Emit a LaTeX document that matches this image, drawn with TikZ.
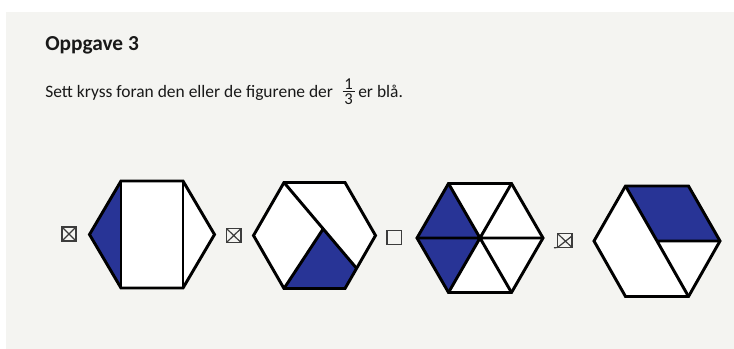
\documentclass[tikz,border=0pt]{standalone}
\usepackage{fontspec}
\usetikzlibrary{calc}
\setmainfont{Carlito}
\definecolor{paper}{RGB}{244,244,241}
\definecolor{ink}{RGB}{25,25,25}
\definecolor{fillblue}{RGB}{40,52,150}
\begin{document}
\begin{tikzpicture}[x=0.75pt,y=-0.75pt,
  hexline/.style={draw=black,line width=2.2pt,line join=miter},
  blue part/.style={fill=fillblue},
  cbox/.style={draw=ink!85,line width=0.9pt},
  txt/.style={inner sep=0pt,anchor=base west,text=ink},
  fracdigit/.style={inner sep=0pt,anchor=base,text=ink,font=\fontsize{12.5}{14}\selectfont}]
\useasboundingbox (0,0) rectangle (734,349);
\fill[white] (0,0) rectangle (734,349);
\fill[paper] (6,12) rectangle (734,349);

% texts
\node[txt,font=\fontsize{16}{19}\selectfont\bfseries] (title) at (45,50.7) {Oppgave 3};
\node[txt,font=\fontsize{13.1}{16}\selectfont] (task) at (45,97.5) {Sett kryss foran den eller de figurene der};
\node[fracdigit] (num) at (348.5,89.5) {1};
\node[fracdigit] (den) at (348.5,105) {3};
\draw[ink,line width=0.6pt] (342.5,91.5) -- (354.5,91.5);
\node[txt,font=\fontsize{13.1}{16}\selectfont] (tail) at (358,97.5) {er blå.};

% ---------- hexagon 1 ----------
\coordinate (aL) at (89.5,234.5);
\coordinate (aTL) at (121,181);
\coordinate (aTR) at (183,181);
\coordinate (aR) at (214.5,234.5);
\coordinate (aBR) at (183,288);
\coordinate (aBL) at (121,288);
\fill[white] (aL)--(aTL)--(aTR)--(aR)--(aBR)--(aBL)--cycle;
\fill[blue part] (aL)--(aTL)--(aBL)--cycle;
\draw[hexline] (aTL)--(aBL) (aTR)--(aBR);
\draw[hexline] (aL)--(aTL)--(aTR)--(aR)--(aBR)--(aBL)--cycle;

% ---------- hexagon 2 ----------
\coordinate (bL) at (253.5,235.5);
\coordinate (bTL) at (284,182.5);
\coordinate (bTR) at (345,182.5);
\coordinate (bR) at (375.5,235.5);
\coordinate (bBR) at (345,288.5);
\coordinate (bBL) at (284,288.5);
\coordinate (bQ) at ($(bR)!0.62!(bBR)$);
\coordinate (bP) at ($(bTL)!0.54!(bQ)$);
\fill[white] (bL)--(bTL)--(bTR)--(bR)--(bBR)--(bBL)--cycle;
\fill[blue part] (bP)--(bQ)--(bBR)--(bBL)--cycle;
\draw[hexline] (bTL)--(bQ) (bP)--(bBL);
\draw[hexline] (bL)--(bTL)--(bTR)--(bR)--(bBR)--(bBL)--cycle;

% ---------- hexagon 3 ----------
\coordinate (cC) at (480,238);
\coordinate (cL) at (417,238);
\coordinate (cTL) at (448.5,183.5);
\coordinate (cTR) at (511.5,183.5);
\coordinate (cR) at (543,238);
\coordinate (cBR) at (511.5,292.5);
\coordinate (cBL) at (448.5,292.5);
\fill[white] (cL)--(cTL)--(cTR)--(cR)--(cBR)--(cBL)--cycle;
\fill[blue part] (cL)--(cTL)--(cC)--(cBL)--cycle;
\draw[hexline] (cL)--(cR) (cTL)--(cBR) (cTR)--(cBL);
\draw[hexline] (cL)--(cTL)--(cTR)--(cR)--(cBR)--(cBL)--cycle;

% ---------- hexagon 4 ----------
\coordinate (dC) at (657,241);
\coordinate (dL) at (594,241);
\coordinate (dTL) at (625.5,186);
\coordinate (dTR) at (688.5,186);
\coordinate (dR) at (720,241);
\coordinate (dBR) at (688.5,296.5);
\coordinate (dBL) at (625.5,296.5);
\fill[white] (dL)--(dTL)--(dTR)--(dR)--(dBR)--(dBL)--cycle;
\fill[blue part] (dTL)--(dTR)--(dR)--(dC)--cycle;
\draw[hexline] (dTL)--(dC)--(dR) (dC)--(dBR);
\draw[hexline] (dL)--(dTL)--(dTR)--(dR)--(dBR)--(dBL)--cycle;

% ---------- check boxes ----------
\draw[cbox] (62,227) rectangle (76,241);
\draw[cbox] (62,227) -- (76,241) (76,227) -- (62,241);
\draw[cbox] (226.5,228.5) rectangle (241,242.5);
\draw[cbox] (226.5,228.5) -- (241,242.5) (241,228.5) -- (226.5,242.5);
\draw[cbox] (387,230.5) rectangle (401.5,244.5);
\draw[cbox] (557.5,233.5) rectangle (572,247.5);
\draw[cbox] (557.5,233.5) -- (572,247.5) (572,236) -- (557.5,247.5);
\draw[cbox] (554,247.8) -- (557.5,247.5);
\end{tikzpicture}
\end{document}
